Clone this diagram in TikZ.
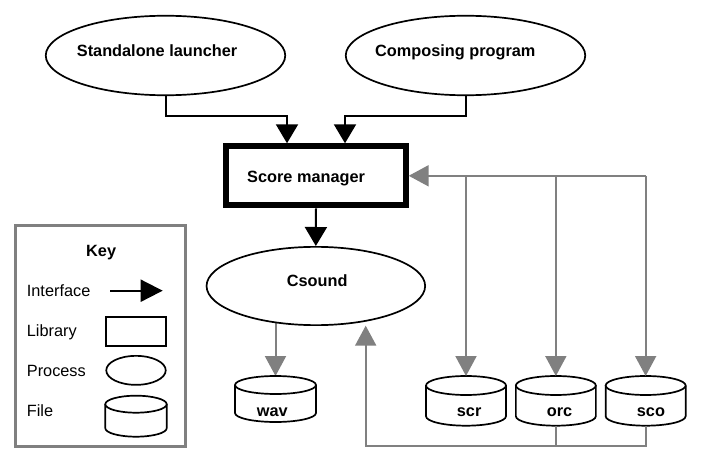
\documentclass[tikz,border=0pt]{standalone}
\usepackage{fontspec}
\setmainfont{Liberation Sans}
\usetikzlibrary{arrows.meta,shapes.geometric,backgrounds}
\definecolor{ln}{RGB}{128,128,128}
\newcommand\drawcyl[3]{%
  \draw[cylline] ([yshift=-#3pt]#1.north west) -- ([yshift=#3pt]#1.south west)
    arc[start angle=180,end angle=360,x radius=#2pt,y radius=#3pt]
    -- ([yshift=-#3pt]#1.north east);
  \draw[cylline] ([yshift=-#3pt]#1.north) ellipse[x radius=#2pt,y radius=#3pt];}
\begin{document}
\begin{tikzpicture}[x=1pt,y=-1pt,
  lbl/.style={font=\fontsize{16.3}{19}\selectfont\bfseries, anchor=base west, inner sep=0pt},
  klbl/.style={font=\fontsize{16.3}{19}\selectfont, anchor=base west, inner sep=0pt},
  proc/.style={ellipse, draw=black, line width=1.7pt, fill=white, inner sep=0pt},
  filebox/.style={rectangle, inner sep=0pt, outer sep=0pt},
  cylline/.style={draw=black, line width=1.7pt, fill=white},
  iface/.style={draw=black, line width=2pt, -{Triangle[length=19pt,width=22pt]}},
  fline/.style={draw=ln, line width=2pt},
  farrow/.style={fline, -{Triangle[length=20pt,width=21pt]}},
]
\useasboundingbox (0,0) rectangle (702,465);
% processes
\node[proc, minimum width=239.5pt, minimum height=79.5pt] (sl) at (165.5,55.5) {};
\node[proc, minimum width=239.5pt, minimum height=79.5pt] (cp) at (465.5,55.5) {};
\node[draw=black, line width=6pt, minimum width=179.4pt, minimum height=59pt, inner sep=0pt, fill=white] (sm) at (316,175.8) {};
\node[proc, minimum width=218.6pt, minimum height=78.3pt] (cs) at (315.85,286) {};
% files
\node[filebox, minimum width=81pt, minimum height=46pt] (wav) at (275.5,399) {};
\node[filebox, minimum width=80pt, minimum height=49.7pt] (scr) at (466,400.85) {};
\node[filebox, minimum width=80pt, minimum height=49.7pt] (orc) at (555.85,400.85) {};
\node[filebox, minimum width=80pt, minimum height=49.7pt] (sco) at (645.65,400.85) {};
\drawcyl{wav}{40.5}{9}
\drawcyl{scr}{40}{9.5}
\drawcyl{orc}{40}{9.5}
\drawcyl{sco}{40}{9.5}
% key
\node[draw=ln, line width=3pt, minimum width=170pt, minimum height=220.4pt, inner sep=0pt] (key) at (100.8,336) {};
\coordinate (ka) at (110,290.7);
\coordinate (kb) at (162.7,290.7);
\draw[iface, -{Triangle[length=22pt,width=22pt]}] (ka) -- (kb);
\node[draw=black, line width=2pt, minimum width=59.4pt, minimum height=29pt, inner sep=0pt] (klib) at (136,331.2) {};
\node[proc, minimum width=59.5pt, minimum height=29pt] (kproc) at (136,370.35) {};
\node[filebox, minimum width=61.4pt, minimum height=41pt] (kfile) at (136,416.2) {};
\drawcyl{kfile}{30.7}{8.5}
% connectors
\begin{scope}[on background layer]
\fill[white] (0,0) rectangle (702,465);
\draw[farrow] (cs.center -| wav.north) -- (wav.north);
\end{scope}
\draw[iface] (sl.south) -- ++(0,19.5) -| ([xshift=-29pt]sm.north);
\draw[iface] (cp.south) -- ++(0,19.5) -| ([xshift=29pt]sm.north);
\draw[iface] (sm.south) -- (cs.north);
\draw[farrow] (sm.east -| sco.north) -- (sm.east);
\draw[farrow] (sm.east -| scr.north) -- (scr.north);
\draw[farrow] (sm.east -| orc.north) -- (orc.north);
\draw[farrow] (sm.east -| sco.north) -- (sco.north);
\coordinate (bend) at (365.7,445.7);
\coordinate (cstip) at (365.7,325.7);
\draw[farrow] (sco.south) |- (bend) -- (cstip);
\draw[fline] (orc.south) -- (orc.south |- bend);
% labels
\node[lbl] (tsl) at (76.7,56.7) {Standalone launcher};
\node[lbl] (tcp) at (375,56.5) {Composing program};
\node[lbl] (tsm) at (247,182.5) {Score manager};
\node[lbl] (tcs) at (286.7,286.5) {Csound};
\node[lbl] (twav) at (256.7,416.7) {wav};
\node[lbl] (tscr) at (456.7,416) {scr};
\node[lbl] (torc) at (546.7,416) {orc};
\node[lbl] (tsco) at (636.7,416) {sco};
\node[lbl] (tkey) at (86,256.5) {Key};
\node[klbl] (tif) at (26.7,296.7) {Interface};
\node[klbl] (tlib) at (26.7,336) {Library};
\node[klbl] (tproc) at (26.7,376) {Process};
\node[klbl] (tfile) at (26.7,416) {File};
\end{tikzpicture}
\end{document}
